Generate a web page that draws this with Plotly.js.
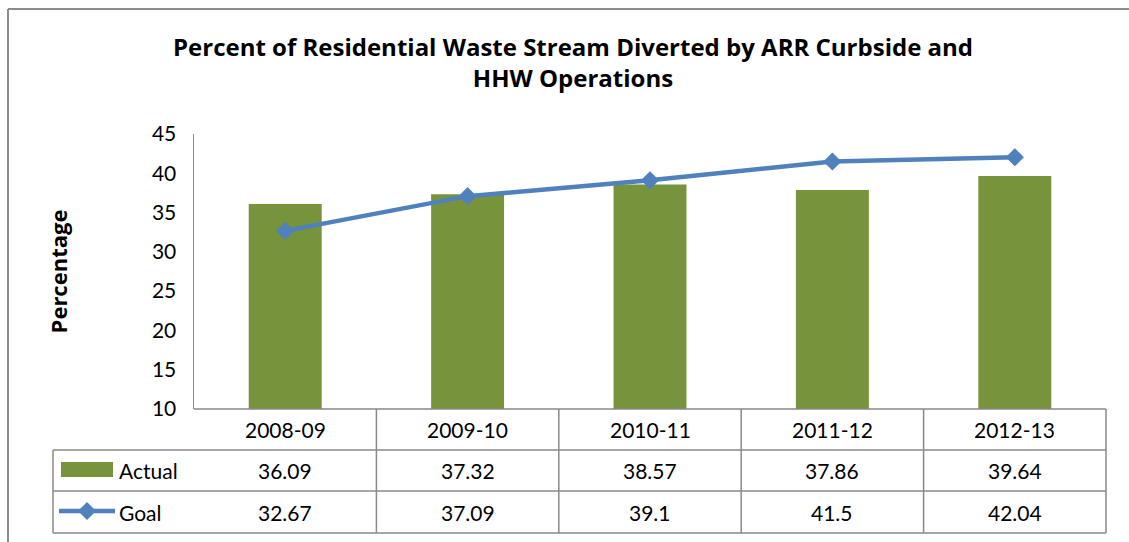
<!DOCTYPE html>
<html>
<head>
<meta charset="utf-8">
<script src="https://cdn.plot.ly/plotly-3.0.1.min.js"></script>
<style>html,body{margin:0;padding:0;background:#fff;}#chart{width:1129px;height:542px;}</style>
</head>
<body>
<div id="chart"></div>
<script>
var categories = ["2008-09", "2009-10", "2010-11", "2011-12", "2012-13"];
var actual = [36.09, 37.32, 38.57, 37.86, 39.64];
var goal = [32.67, 37.09, 39.1, 41.5, 42.04];
var seriesNames = ["Actual", "Goal"];
var yTicks = [10, 15, 20, 25, 30, 35, 40, 45];

var W = 1129, H = 542;
var L = 194, R = 1106, T = 134, B = 409;
function px(x) { return (x - L) / (R - L); }
function py(y) { return (B - y) / (B - T); }

var green = "#77933C", blue = "#4F81BD", grid = "#898989";
var font = "Lato, 'Open Sans', sans-serif";
var boldFont = "'Open Sans', Lato, sans-serif";

var traces = [
  { type: "bar", x: categories, y: actual, name: seriesNames[0], marker: { color: green }, width: 0.4, hoverinfo: "x+y" },
  { type: "scatter", mode: "lines+markers", x: categories, y: goal, name: seriesNames[1],
    line: { color: blue, width: 4.5 }, marker: { symbol: "diamond", size: 14, color: blue } }
];

var shapes = [];
function line(x0, y0, x1, y1, color, w) {
  shapes.push({ type: "line", xref: "paper", yref: "paper", x0: px(x0), y0: py(y0), x1: px(x1), y1: py(y1),
    line: { color: color || grid, width: w || 1.5 }, layer: "above" });
}
// outer border
line(8, 9, 1135, 9, "#8c8c8c", 2);
line(8, 9, 8, 548, "#8c8c8c", 2);
// table
var colX = [];
for (var i = 0; i <= categories.length; i++) colX.push(L + (R - L) * i / categories.length);
line(L, 409, R, 409);
line(53, 450, R, 450);
line(53, 491, R, 491);
line(53, 533, R, 533);
line(53, 450, 53, 533);
for (var j = 1; j < colX.length; j++) line(colX[j], 409, colX[j], 533);
// legend keys
shapes.push({ type: "rect", xref: "paper", yref: "paper", x0: px(61), x1: px(113), y0: py(462), y1: py(477),
  fillcolor: green, line: { width: 0 } });
shapes.push({ type: "line", xref: "paper", yref: "paper", x0: px(59), x1: px(115), y0: py(511), y1: py(511),
  line: { color: blue, width: 4.5 } });
var cx = 87, cy = 511, d = 9;
shapes.push({ type: "path", xref: "paper", yref: "paper",
  path: "M" + px(cx - d) + "," + py(cy) + " L" + px(cx) + "," + py(cy - d) + " L" + px(cx + d) + "," + py(cy) + " L" + px(cx) + "," + py(cy + d) + " Z",
  fillcolor: blue, line: { width: 0 } });

var annotations = [];
var rowsData = [actual, goal];
var rowCenters = [470.5, 512];
for (var c = 0; c < categories.length; c++) {
  annotations.push({ x: categories[c], xref: "x", y: py(429.5), yref: "paper", text: categories[c], showarrow: false,
    font: { family: font, size: 21, color: "#000" }, xanchor: "center", yanchor: "middle" });
  for (var r = 0; r < rowsData.length; r++) {
    annotations.push({ x: categories[c], xref: "x", y: py(rowCenters[r]), yref: "paper", text: String(rowsData[r][c]), showarrow: false,
      font: { family: font, size: 21, color: "#000" }, xanchor: "center", yanchor: "middle" });
  }
}
for (var s = 0; s < seriesNames.length; s++) {
  annotations.push({ x: px(117), xref: "paper", y: py(rowCenters[s]), yref: "paper", text: seriesNames[s], showarrow: false,
    font: { family: font, size: 21, color: "#000" }, xanchor: "left", yanchor: "middle" });
}

var layout = {
  width: W, height: H,
  margin: { l: L, r: W - R, t: T, b: H - B, pad: 0 },
  paper_bgcolor: "#fff", plot_bgcolor: "#fff",
  showlegend: false,
  title: { text: "Percent of Residential Waste Stream Diverted by ARR Curbside and<br>HHW Operations",
    font: { family: boldFont, size: 24, color: "#000", weight: "bold" },
    xref: "paper", x: px(573), xanchor: "center", yref: "container", y: 1 - 56 / H, yanchor: "top" },
  xaxis: { type: "category", range: [-0.5, 4.5], showticklabels: false, ticks: "", showgrid: false, zeroline: false, showline: false },
  yaxis: { range: [10, 45], tickvals: yTicks, ticktext: yTicks.map(String), showgrid: false, zeroline: false,
    showline: true, linecolor: grid, linewidth: 1.5, ticks: "", ticklabelstandoff: 12,
    tickfont: { family: font, size: 21, color: "#000" },
    title: { text: "Percentage", font: { family: boldFont, size: 22, color: "#000", weight: "bold" }, standoff: 78 },
    automargin: false },
  shapes: shapes,
  annotations: annotations,
  bargap: 0.6
};

Plotly.newPlot("chart", traces, layout, { displayModeBar: false, staticPlot: true });
</script>
</body>
</html>
